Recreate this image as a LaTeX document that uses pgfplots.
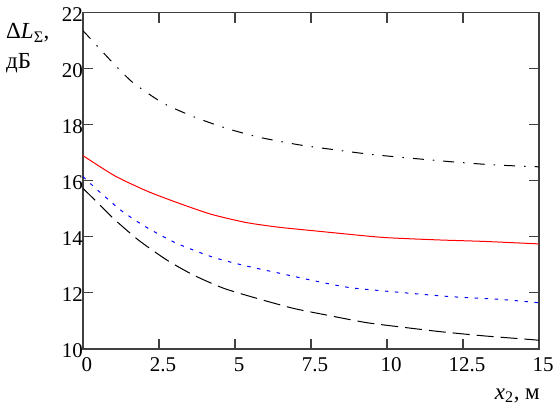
\documentclass[border=0pt]{standalone}
\usepackage{fontspec}
\setmainfont{Liberation Serif}
\usepackage{pgfplots}
\pgfplotsset{compat=1.18}
\begin{document}
\begin{tikzpicture}
\begin{axis}[
  scale only axis,
  width=456bp, height=336.3bp,
  xmin=0, xmax=15, ymin=10, ymax=22,
  xtick={0,2.5,5,7.5,10,12.5,15},
  xticklabels={0,2.5,5,7.5,10,12.5,15},
  ytick={10,12,14,16,18,20,22},
  tick align=inside,
  major tick length=10bp,
  axis line style={line width=1.2bp, black!75},
  every tick/.style={line width=1.1bp, black!75},
  /pgf/number format/assume math mode=true,
  tick label style={font=\fontsize{21bp}{25bp}\selectfont},
  xticklabel style={xshift=4bp, yshift=-5.5bp},
  yticklabel style={xshift=3.5bp, yshift=-2bp},
  clip=true,
]
\addplot[black, line width=1bp, smooth, tension=0.4, dash pattern=on 11bp off 9bp on 1.5bp off 9bp] coordinates {
(0,21.36)(1,20.19)(1.65,19.5)(2.64,18.77)(3.68,18.27)(4.73,17.87)(5.82,17.55)(7.08,17.29)(8.34,17.10)(9.5,16.94)(10.87,16.80)(12.13,16.68)(13.5,16.57)(15,16.5)};
\addplot[red, line width=1bp, smooth, tension=0.4] coordinates {
(0,16.90)(1.06,16.17)(2.16,15.61)(3.26,15.16)(4.24,14.80)(5.38,14.51)(6.48,14.34)(7.58,14.22)(8.23,14.15)(9.88,13.98)(11.74,13.89)(13.17,13.84)(15,13.75)};
\addplot[blue, line width=1bp, smooth, tension=0.4, dash pattern=on 3.5bp off 6.5bp] coordinates {
(0,16.15)(0.5,15.65)(1.27,14.93)(2.09,14.34)(3.08,13.77)(4.29,13.27)(5.38,12.96)(6.48,12.70)(7.58,12.44)(8.78,12.19)(10.43,12.02)(12.07,11.87)(13.72,11.77)(15,11.65)};
\addplot[black, line width=1bp, smooth, tension=0.4, dash pattern=on 17bp off 7bp] coordinates {
(0,15.73)(0.5,15.2)(1,14.66)(1.82,13.89)(2.75,13.18)(3.63,12.64)(4.62,12.17)(5.71,11.81)(6.92,11.45)(8.02,11.21)(9.33,10.94)(10.65,10.76)(11.74,10.62)(13.17,10.47)(14.81,10.33)(15,10.31)};
\end{axis}
\node[anchor=base west, inner sep=0pt, font=\fontsize{23bp}{27bp}\selectfont] at (-77bp,310bp) {Δ\textit{L}\textsubscript{Σ},};
\node[anchor=base west, inner sep=0pt, font=\fontsize{23bp}{27bp}\selectfont] at (-77bp,280bp) {дБ};
\node[anchor=base east, inner sep=0pt, font=\fontsize{23bp}{27bp}\selectfont] at (457bp,-50bp) {\textit{x}\textsubscript{2}, м};
\pgfresetboundingbox
\useasboundingbox (-83bp,-59bp) rectangle (476bp,349bp);
\end{tikzpicture}
\end{document}
